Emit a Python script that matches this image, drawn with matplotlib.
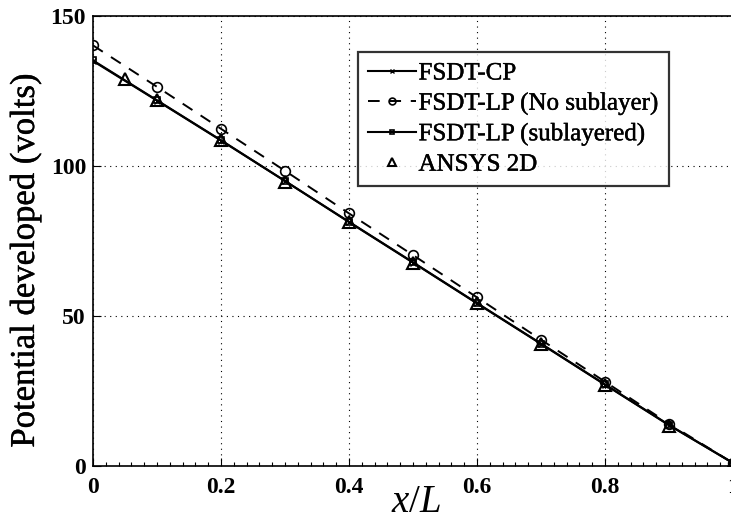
import matplotlib
matplotlib.use("Agg")
import matplotlib.pyplot as plt
import matplotlib.patheffects as pe
from matplotlib.ticker import MultipleLocator, FuncFormatter

plt.rcParams['font.family'] = ['Liberation Serif', 'DejaVu Serif']
plt.rcParams['mathtext.fontset'] = 'custom'
plt.rcParams['mathtext.it'] = 'Liberation Serif:italic'
plt.rcParams['mathtext.rm'] = 'Liberation Serif'

# Normalised position along the beam
x_nodes = [0.0, 0.1, 0.2, 0.3, 0.4, 0.5, 0.6, 0.7, 0.8, 0.9, 1.0]
x_ansys = [0.05, 0.1, 0.2, 0.3, 0.4, 0.5, 0.6, 0.7, 0.8, 0.9, 1.0]

# Potential developed (volts)
fsdt_cp = [135.0, 121.8, 108.5, 95.0, 81.3, 67.8, 54.2, 40.7, 27.1, 13.6, 1.0]
fsdt_lp_nosub = [140.2, 126.4, 112.4, 98.4, 84.2, 70.3, 56.2, 42.1, 28.1, 14.1, 1.0]
fsdt_lp_sub = [135.2, 121.9, 108.6, 95.0, 81.4, 67.9, 54.3, 40.8, 27.2, 13.7, 1.0]
ansys_2d = [128.9, 122.0, 108.7, 94.8, 81.2, 67.8, 54.2, 40.6, 27.0, 13.5, 1.0]

fig = plt.figure(figsize=(7.31, 5.20), dpi=100)
ax = fig.add_axes([93 / 731, 1 - 466 / 520, 640 / 731, 450 / 520])

ax.plot(x_nodes, fsdt_cp, '-', color='k', lw=1.5, marker='x', ms=5,
        mew=1.0, label='FSDT-CP')
ax.plot(x_nodes, fsdt_lp_nosub, '--', color='k', lw=1.4, marker='o', ms=7,
        mfc='none', mew=1.2, dashes=(6, 5), label='FSDT-LP (No sublayer)')
ax.plot(x_nodes, fsdt_lp_sub, '-', color='k', lw=1.5, marker='s', ms=4,
        mfc='none', mew=1.2, label='FSDT-LP (sublayered)')
ax.plot(x_ansys, ansys_2d, linestyle='none', color='k', marker='^', ms=8,
        mfc='none', mew=1.5, label='ANSYS 2D')

ax.set_xlim(0, 1)
ax.set_ylim(0, 150)
ax.xaxis.set_major_locator(MultipleLocator(0.2))
ax.xaxis.set_minor_locator(MultipleLocator(0.02))
ax.yaxis.set_major_locator(MultipleLocator(50))
ax.xaxis.set_major_formatter(FuncFormatter(
    lambda v, p: '0' if abs(v) < 1e-9 else ('1' if abs(v - 1) < 1e-9 else f'{v:.1f}')))

ax.tick_params(which='both', direction='in', top=False, right=False, width=0.8)
ax.tick_params(which='major', length=6, labelsize=17)
ax.tick_params(axis='x', which='major', pad=8)
ax.tick_params(axis='y', which='major', pad=5)
ax.tick_params(which='minor', length=3)
for lab in ax.get_xticklabels() + ax.get_yticklabels():
    lab.set_fontweight('bold')
ax.grid(True, which='major', linestyle=(0, (1, 4)), color='k', lw=0.8)
for s in ax.spines.values():
    s.set_linewidth(1.2)

heavy = [pe.withStroke(linewidth=0.3, foreground='k')]
ylab = ax.set_ylabel('Potential developed (volts)', fontsize=25)
ylab.set_path_effects(heavy)
ylab.set_verticalalignment('center')
ax.yaxis.set_label_coords(-0.106, 0.458)
xlab = ax.set_xlabel('$x/L$', fontsize=28)
ax.xaxis.set_label_coords(0.505, -0.04)
xlab.set_verticalalignment('top')

leg = ax.legend(loc='upper left', bbox_to_anchor=(265 / 640, 1 - 36 / 450),
                fontsize=18, frameon=True, fancybox=False, edgecolor='k',
                handlelength=1.9, handletextpad=0.12, borderpad=0.4,
                labelspacing=0.3, borderaxespad=0, markerscale=0.7)
leg.get_frame().set_linewidth(1.6)
for t in leg.get_texts():
    t.set_path_effects(heavy)

fig.savefig('out.png', dpi=100)
